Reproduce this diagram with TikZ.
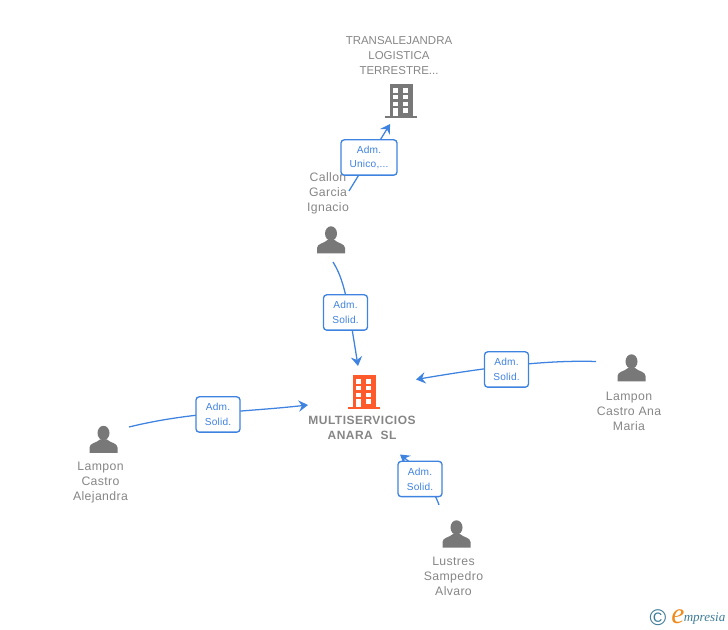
\documentclass[tikz,border=0pt]{standalone}
\usepackage{fontspec}
\setmainfont{Liberation Sans}
\newfontfamily\personfont[LetterSpace=3]{Liberation Sans}
\newfontfamily\mainfont[LetterSpace=4]{Liberation Sans}
\newfontfamily\rolefont[LetterSpace=2]{Liberation Sans}
\newfontfamily\logofont{Liberation Serif}
\usetikzlibrary{arrows.meta}
\definecolor{linkblue}{HTML}{3F83E0}
\definecolor{icongray}{HTML}{787878}
\definecolor{txtgray}{HTML}{868686}
\definecolor{iconorange}{HTML}{FF5A2B}
\definecolor{logoteal}{HTML}{3F7C99}
\definecolor{logoorange}{HTML}{F08A1D}
\tikzset{
  x=0.75pt,y=-0.75pt,
  link/.style={draw=linkblue,line width=0.95pt,-{Stealth[length=7pt,width=8.5pt,inset=2.4pt]}},
  rolebox/.style={draw=linkblue,line width=1pt,fill=white,rounded corners=2.4pt,text=linkblue,
    minimum width=33pt,minimum height=26.5pt,inner sep=0pt,align=center,
    font=\rolefont\fontsize{7.6}{11.2}\selectfont},
  personname/.style={text=txtgray,align=center,inner sep=0pt,font=\personfont\fontsize{9.2}{11.25}\selectfont},
  companyname/.style={text=txtgray,align=center,inner sep=0pt,font=\fontsize{8.6}{11.25}\selectfont},
  mainname/.style={text=txtgray,align=center,inner sep=0pt,font=\mainfont\fontsize{9}{11.25}\selectfont\bfseries},
  pics/person/.style={code={
    \fill[icongray] (0,-6.5) ellipse [x radius=6,y radius=7.2];
    \fill[icongray] (-14,13.5) -- (-14,8) .. controls (-14,3.5) and (-7,3.5) .. (-3.5,0)
      -- (3.5,0) .. controls (7,3.5) and (14,3.5) .. (14,8) -- (14,13.5) -- cycle;
  }},
  pics/tower/.style={code={
    \fill[#1] (-11.5,-17) rectangle (11.5,15.5);
    \fill[#1] (-16,15) rectangle (16,17.5);
    \foreach \r in {-12.7,-6,0.7}{
      \fill[white] (-7.7,\r) rectangle ++(5,4.4);
      \fill[white] (2.3,\r) rectangle ++(5,4.4);
    }
    \fill[white] (-7.7,7.3) rectangle (-2.7,15);
    \fill[white] (2.3,7.3) rectangle ++(5,4.4);
  }},
}
\begin{document}
\begin{tikzpicture}
\useasboundingbox (0,0) rectangle (728,630);
% icons
\pic (mainicon) at (364,392) {tower=iconorange};
\pic (transicon) at (401,101) {tower=icongray};
\pic (callonicon) at (331,240) {person};
\pic (anaicon) at (631.5,368) {person};
\pic (alejicon) at (103.5,439.5) {person};
\pic (alvaroicon) at (456.5,534) {person};
% end points
\coordinate (cs1) at (349,191); \coordinate (ct1) at (390,124);
\coordinate (cs2) at (333,262); \coordinate (ct2) at (358,366);
\coordinate (cs3) at (596,361.5); \coordinate (ct3) at (416,379.5);
\coordinate (cs4) at (129,427); \coordinate (ct4) at (308,405);
\coordinate (cs5) at (439,505); \coordinate (ct5) at (400,454.5);
% connectors
\draw[link] (cs1) -- (ct1);
\draw[link] (cs2) .. controls (344,280) and (347,297) .. (ct2);
\draw[link] (cs3) .. controls (550,360) and (495,366) .. (ct3);
\draw[link] (cs4) .. controls (190,412) and (245,412) .. (ct4);
\draw[link] (cs5) .. controls (434,490) and (420,470) .. (ct5);
% texts
\node[companyname] (trans) at (399,55.5) {TRANSALEJANDRA\\LOGISTICA\\TERRESTRE...};
\node[personname] (callon) at (328,193) {Callon\\Garcia\\Ignacio};
\node[mainname] (multi) at (362,428) {MULTISERVICIOS\\ANARA\ \ SL};
\node[personname] (ana) at (629,411) {Lampon\\Castro Ana\\Maria};
\node[personname] (alej) at (100.5,482.5) {Lampon\\Castro\\Alejandra};
\node[personname] (alvaro) at (453.5,576) {Lustres\\Sampedro\\Alvaro};
% role labels
\node[rolebox,minimum width=42pt] (r1) at (369,157.5) {Adm.\hspace{3pt}\\Unico,...};
\node[rolebox] (r2) at (345.5,312.5) {Adm.\hspace{3pt}\\Solid.};
\node[rolebox] (r3) at (506.5,369.5) {Adm.\hspace{3pt}\\Solid.};
\node[rolebox] (r4) at (218,414.5) {Adm.\hspace{3pt}\\Solid.};
\node[rolebox] (r5) at (420,479) {Adm.\hspace{3pt}\\Solid.};
% logo
\node[text=logoteal,inner sep=0pt,font=\fontsize{17}{17}\selectfont] (copy) at (658,618) {©};
\node[text=logoorange,inner sep=0pt,font=\logofont\itshape\fontsize{22}{22}\selectfont] (logoe) at (678,617) {e};
\node[text=logoteal,inner sep=0pt,anchor=west,font=\logofont\itshape\fontsize{9.8}{10}\selectfont] (logotext) at (683.5,619) {mpresia};
\end{tikzpicture}
\end{document}
